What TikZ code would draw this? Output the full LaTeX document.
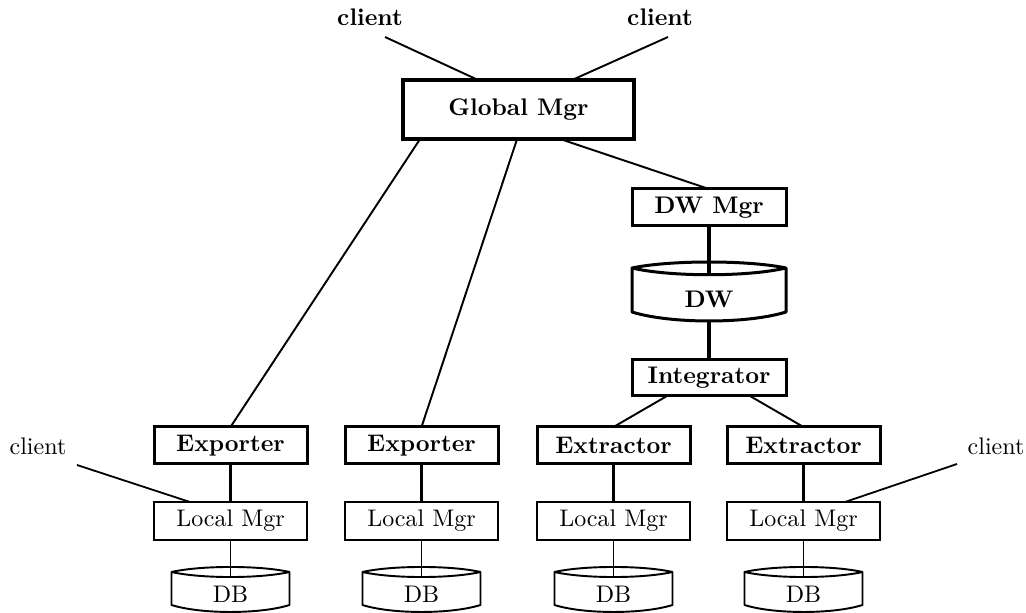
\documentclass[tikz,border=0pt]{standalone}
\usetikzlibrary{calc}
% one drawing unit
\newcommand\pxu{0.4167pt}
% outline of a drum: lens-shaped top, straight sides, curved bottom
% #1 node, #2 rise of top arc, #3 dip of lens arc, #4 dip of bottom arc, #5 style
\newcommand\drawdrum[5]{%
  \draw[line join=round, #5] (#1.north west)
    .. controls ($(#1.north west)!0.25!(#1.north east)+(0,-#2)$)
            and ($(#1.north west)!0.75!(#1.north east)+(0,-#2)$) .. (#1.north east)
    .. controls ($(#1.north west)!0.75!(#1.north east)+(0,#3)$)
            and ($(#1.north west)!0.25!(#1.north east)+(0,#3)$) .. (#1.north west)
    -- (#1.south west)
    .. controls ($(#1.south west)!0.25!(#1.south east)+(0,#4)$)
            and ($(#1.south west)!0.75!(#1.south east)+(0,#4)$) .. (#1.south east)
    -- (#1.north east);
}
\begin{document}
\begin{tikzpicture}[x=\pxu, y=-\pxu,
  box/.style={draw, inner sep=0pt, outer sep=0pt, minimum width=153*\pxu},
  boldbox/.style={box, line width=1.25pt, font=\bfseries},
  plainbox/.style={box, line width=0.8pt, minimum height=38*\pxu},
  drum/.style={inner sep=0pt, outer sep=0pt},
  link/.style={line width=0.8pt},
  heavylink/.style={line width=1.3pt},
  lightlink/.style={line width=0.75pt}]
\useasboundingbox (0,0) rectangle (1026,613);

% top level
\node[boldbox, minimum width=231*\pxu, minimum height=59*\pxu, line width=1.35pt] (gm) at (518.5,109.5) {Global Mgr};
\node[font=\bfseries] (cl1) at (370,17) {client};
\node[font=\bfseries] (cl2) at (660,17) {client};
\coordinate (cl1e) at (385,37);
\coordinate (cl2e) at (668,37);

% warehouse branch
\node[boldbox, minimum width=154*\pxu, minimum height=37*\pxu] (dwm) at (709,207.5) {DW Mgr};
\node[drum, minimum width=154*\pxu, minimum height=44*\pxu] (dw) at (709,290) {};
\node[font=\bfseries] (dwl) at (709,299) {DW};
\node[boldbox, minimum width=154*\pxu, minimum height=36*\pxu] (integ) at (709,378) {Integrator};

% source columns
\foreach \n/\cx/\lab in {1/230.5/Exporter, 2/421.5/Exporter, 3/613.5/Extractor, 4/803.5/Extractor}{
  \node[boldbox, minimum height=37*\pxu] (w\n) at (\cx,445.5) {\lab};
  \node[plainbox] (lm\n) at (\cx,521) {Local Mgr};
  \node[drum, minimum width=118*\pxu, minimum height=33*\pxu] (db\n) at (\cx,588.5) {};
  \node (dbl\n) at (\cx,594) {DB};
}

\node (cl3) at (38,446) {client};
\node (cl4) at (996,446) {client};
\coordinate (cl3e) at (77,465);
\coordinate (cl4e) at (957,464);

% drums
\drawdrum{dw}{8}{9}{12}{line width=1.25pt}
\foreach \n in {1,...,4}{\drawdrum{db\n}{6.7}{6.7}{9.3}{line width=0.8pt}}

% connectors
\draw[link] (cl1e) -- ($(gm.north west)!0.325!(gm.north east)$);
\draw[link] (cl2e) -- ($(gm.north west)!0.732!(gm.north east)$);
\draw[link] ($(gm.south west)!0.074!(gm.south east)$) -- (w1.north);
\draw[link] ($(gm.south west)!0.494!(gm.south east)$) -- (w2.north);
\draw[link] ($(gm.south west)!0.680!(gm.south east)$) -- (dwm.north);
\draw[heavylink] (dwm.south) -- ($(dw.north)+(0,6.7)$);
\draw[heavylink] ($(dw.south)+(0,9)$) -- (integ.north);
\draw[link] ($(integ.south west)!0.227!(integ.south east)$) -- (w3.north);
\draw[link] ($(integ.south west)!0.766!(integ.south east)$) -- (w4.north);
\foreach \n in {1,...,4}{
  \draw[heavylink] (w\n.south) -- (lm\n.north);
  \draw[lightlink] (lm\n.south) -- ($(db\n.north)+(0,5)$);
}
\draw[lightlink] (cl3e) -- ($(lm1.north west)!0.235!(lm1.north east)$);
\draw[lightlink] (cl4e) -- ($(lm4.north west)!0.771!(lm4.north east)$);
\end{tikzpicture}
\end{document}
